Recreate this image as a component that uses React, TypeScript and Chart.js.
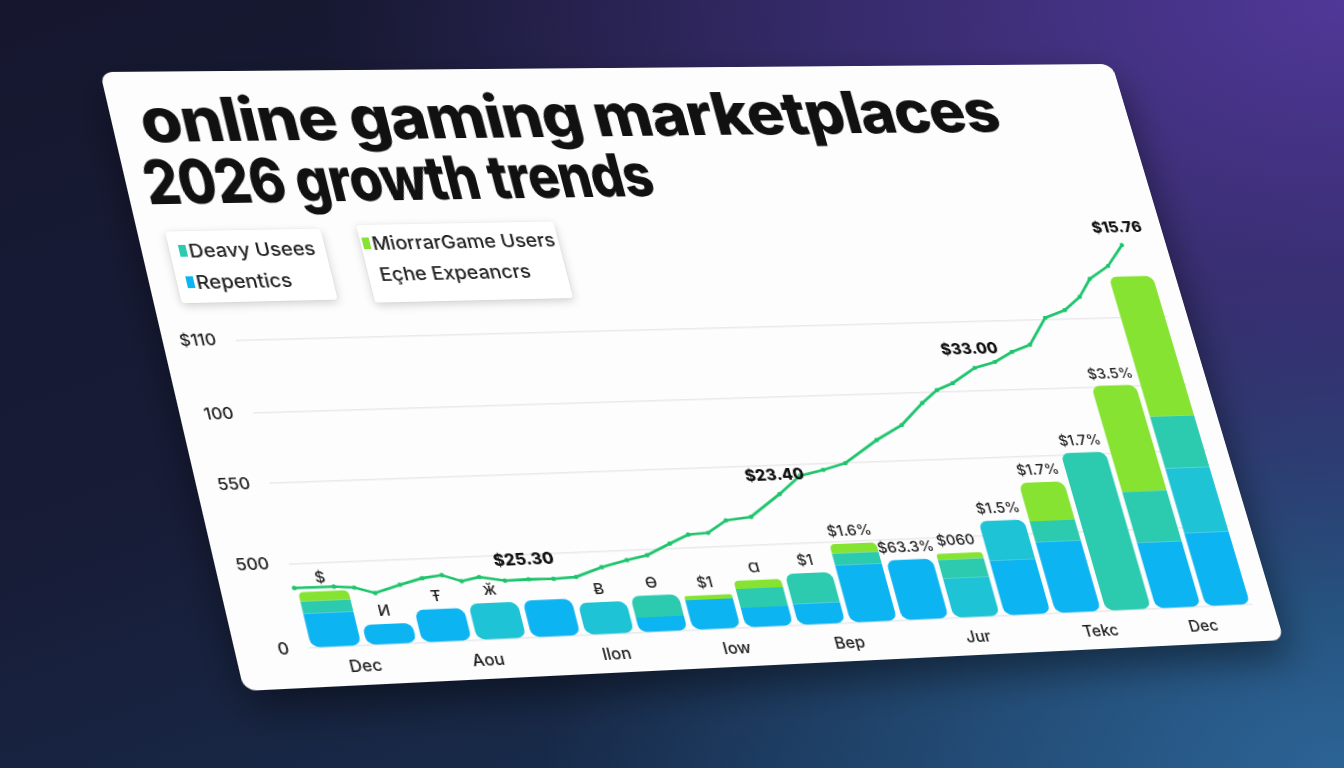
import React, { useEffect, useRef } from "react";
import { Chart, registerables } from "chart.js";

Chart.register(...registerables);

// ---------- data ----------
const barCategories = [
  "P01", "P02", "P03", "P04", "P05", "P06", "P07", "P08", "P09",
  "P10", "P11", "P12", "P13", "P14", "P15", "P16", "P17", "P18",
];
const seriesNames = ["Repentics", "Eçhe Expeancrs", "Deavy Usees", "MiorrarGame Users"];
const repenticsValues = [11.0, 6.6, 10.6, 0, 12.1, 0, 5.0, 9.9, 6.6, 7.1, 19.1, 20.1, 0, 18.5, 24.0, 0, 22.5, 25.1];
const expeancrsValues = [0, 0, 0, 11.8, 0, 10.5, 0, 0, 0, 0, 0, 0, 13.2, 13.4, 0, 0, 0, 22.2];
const deavyValues = [3.9, 0, 0, 0, 0, 0, 7.0, 0, 6.2, 10.0, 4.0, 0, 6.3, 0, 7.1, 53.8, 17.4, 17.9];
const miorrarValues = [3.0, 0, 0, 0, 0, 0, 0, 1.4, 2.7, 0, 3.1, 0, 2.1, 0, 13.1, 0, 36.5, 49.1];
const barLabels = ["$", "И", "Ŧ", "ӂ", "", "Ƀ", "Ө", "$1", "Ɑ", "$1", "$1.6%", "$63.3%", "$060", "$1.5%", "$1.7%", "$1.7%", "$3.5%", ""];

const lineName = "Growth trend";
const lineX = [
  -0.5, 0.21, 0.57, 0.92, 1.4, 1.83, 2.2, 2.53, 2.87, 3.32,
  3.76, 4.22, 4.64, 5.16, 5.66, 6.06, 6.54, 6.93, 7.31, 7.71,
  8.2, 8.86, 9.34, 9.82, 10.28, 11.01, 11.58, 12.1, 12.46, 12.81,
  13.33, 13.76, 14.16, 14.56, 15.02, 15.46, 15.84, 16.15, 16.6, 17.01,
];
const lineY = [
  19.3, 19.2, 18.6, 16.6, 18.9, 20.7, 21.4, 19.2, 20.3, 18.8,
  18.9, 18.7, 19.0, 21.8, 23.8, 25.1, 28.6, 31.3, 31.6, 35.5,
  36.3, 43.5, 49.3, 51.0, 53.0, 60.4, 65.2, 72.4, 76.7, 78.9,
  83.9, 85.7, 89.0, 91.3, 100.5, 103.0, 107.5, 113.7, 118.1, 125.4,
];
const lineCalloutIndex = [10, 21, 30, 39];
const lineCalloutText = ["$25.30", "$23.40", "$33.00", "$15.76"];

const xTickLabels = ["Dec", "Aou", "llon", "Iow", "Bep", "Jur", "Tekc", "Dec"];
const xTickPositions = [0.44, 2.66, 5.03, 7.28, 9.43, 11.92, 14.33, 16.39];
const yTickValues = [0, 27, 53, 76, 100];
const yTickLabels = ["0", "500", "550", "100", "$110"];

const titleLines = ["online gaming marketplaces", "2026 growth trends"];

// ---------- styling ----------
const stackSeries = [repenticsValues, expeancrsValues, deavyValues, miorrarValues];
const seriesColors = ["#0db4f2", "#1fc3d6", "#2ccbb0", "#86e332"];
const lineColor = "#1ec46c";
const CARD_W = 1020;
const CARD_H = 620;
const QUAD = [
  [100, 72],
  [1112, 64],
  [1284, 640],
  [244, 691],
];
const FONT = 'Inter, "Noto Sans", "DejaVu Sans", sans-serif';

function quadMatrix(W: number, H: number, q: number[][]) {
  const [[x0, y0], [x1, y1], [x2, y2], [x3, y3]] = q;
  const sx = x0 - x1 + x2 - x3;
  const sy = y0 - y1 + y2 - y3;
  const dx1 = x1 - x2, dx2 = x3 - x2, dy1 = y1 - y2, dy2 = y3 - y2;
  const det = dx1 * dy2 - dx2 * dy1;
  const g = (sx * dy2 - dx2 * sy) / det;
  const h = (dx1 * sy - sx * dy1) / det;
  const a = x1 - x0 + g * x1, b = x3 - x0 + h * x3, c = x0;
  const d = y1 - y0 + g * y1, e = y3 - y0 + h * y3, f = y0;
  return `matrix3d(${a / W},${d / W},0,${g / W},${b / H},${e / H},0,${h / H},0,0,1,0,${c},${f},0,1)`;
}

const labelPlugin = {
  id: "valueLabels",
  afterDatasetsDraw(chart: any) {
    const ctx = chart.ctx;
    ctx.save();
    ctx.fillStyle = "#1f1f1f";
    ctx.textAlign = "center";
    ctx.textBaseline = "bottom";
    ctx.font = `500 15px ${FONT}`;
    for (let j = 0; j < barCategories.length; j++) {
      const text = barLabels[j];
      if (!text) continue;
      let top = -1;
      stackSeries.forEach((arr, i) => {
        if (arr[j] > 0) top = i;
      });
      if (top < 0) continue;
      const el = chart.getDatasetMeta(top).data[j];
      ctx.fillText(text, el.x, el.y - 5);
    }
    const lm = chart.getDatasetMeta(stackSeries.length);
    ctx.font = `800 16px ${FONT}`;
    ctx.fillStyle = "#111";
    lineCalloutIndex.forEach((pi, k) => {
      const p = lm.data[pi];
      if (p) ctx.fillText(lineCalloutText[k], p.x, p.y - 11);
    });
    ctx.restore();
  },
};

function LegendItem({ name, color, show }: { name: string; color: string; show: boolean }) {
  return (
    <div style={{ display: "flex", alignItems: "center", height: 32 }}>
      <span
        style={{
          display: "inline-block",
          width: 7,
          height: 12,
          marginRight: 2,
          background: show ? color : "transparent",
        }}
      />
      <span>{name}</span>
    </div>
  );
}

export default function App() {
  const canvasRef = useRef<HTMLCanvasElement | null>(null);

  useEffect(() => {
    if (!canvasRef.current) return;
    const radius = (c: any) => {
      if (c.type !== "data") return 0;
      const j = c.dataIndex;
      const i = c.datasetIndex;
      const vals = stackSeries.map((s) => s[j]);
      const first = vals.findIndex((v) => v > 0);
      let last = -1;
      vals.forEach((v, k) => {
        if (v > 0) last = k;
      });
      const R = 8;
      return {
        topLeft: i === last ? R : 0,
        topRight: i === last ? R : 0,
        bottomLeft: i === first ? R : 0,
        bottomRight: i === first ? R : 0,
      };
    };
    const barSets = stackSeries.map((arr, i) => ({
      type: "bar" as const,
      label: seriesNames[i],
      data: arr,
      backgroundColor: seriesColors[i],
      xAxisID: "x",
      yAxisID: "y",
      stack: "bars",
      order: 1,
      grouped: false,
      barPercentage: 0.9,
      categoryPercentage: 1,
      borderSkipped: false,
      borderRadius: radius,
    }));
    const chart = new Chart(canvasRef.current, {
      type: "bar",
      data: {
        labels: barCategories,
        datasets: [
          ...barSets,
          {
            type: "line" as const,
            label: lineName,
            data: lineX.map((x, i) => ({ x, y: lineY[i] })),
            xAxisID: "xl",
            yAxisID: "y",
            stack: "line",
            order: 0,
            borderColor: lineColor,
            backgroundColor: lineColor,
            borderWidth: 2.6,
            pointRadius: 2.2,
            pointBackgroundColor: lineColor,
            pointBorderWidth: 0,
            tension: 0,
            clip: false,
          } as any,
        ],
      },
      options: {
        responsive: false,
        animation: false,
        events: [],
        layout: { padding: { left: 7.8, right: 21.5, top: 184.7, bottom: 7.8 } },
        plugins: { legend: { display: false }, tooltip: { enabled: false } },
        scales: {
          x: { type: "category", display: false, stacked: true, offset: true },
          xl: { type: "linear", display: false, offset: false, min: -0.5, max: 17.5, grid: { offset: false } },
          x2: {
            type: "linear",
            position: "bottom",
            min: -0.5,
            max: 17.5,
            offset: false,
            afterBuildTicks: (axis: any) => {
              axis.ticks = xTickPositions.map((v) => ({ value: v }));
            },
            grid: { display: false, offset: false },
            border: { display: false },
            ticks: {
              padding: 2,
              color: "#1c1c1c",
              maxRotation: 0,
              autoSkip: false,
              font: { family: FONT, size: 16, weight: "500" },
              callback: (_v: any, idx: number) => xTickLabels[idx],
            },
            afterFit: (s: any) => {
              s.height = 30;
            },
          } as any,
          y: {
            type: "linear",
            stacked: true,
            min: 0,
            max: 130,
            afterBuildTicks: (axis: any) => {
              axis.ticks = yTickValues.map((v) => ({ value: v }));
            },
            grid: { color: "#e9e9ec", lineWidth: 1.5, drawTicks: false },
            border: { display: false },
            ticks: {
              padding: 18,
              color: "#1c1c1c",
              font: { family: FONT, size: 16, weight: "500" },
              callback: (_v: any, idx: number) => yTickLabels[idx],
            },
            afterFit: (s: any) => {
              s.width = 60;
            },
          } as any,
        },
      },
      plugins: [labelPlugin],
    });
    return () => chart.destroy();
  }, []);

  const boxStyle: React.CSSProperties = {
    position: "absolute",
    background: "#fff",
    borderRadius: 3,
    boxShadow: "0 3px 10px rgba(0,0,0,0.18), 0 0 2px rgba(0,0,0,0.08)",
    fontFamily: FONT,
    fontWeight: 500,
    fontSize: 19,
    color: "#222",
    boxSizing: "border-box",
    zIndex: 2,
  };

  return (
    <div
      style={{
        position: "fixed",
        inset: 0,
        overflow: "hidden",
        background:
          "radial-gradient(95% 100% at 100% 0%, rgba(80,56,152,1) 0%, rgba(80,56,152,0.55) 40%, rgba(80,56,152,0) 80%)," +
          "radial-gradient(70% 75% at 100% 100%, rgba(44,100,150,1) 0%, rgba(44,100,150,0) 85%)," +
          "linear-gradient(160deg, #16172f 0%, #171c37 45%, #183456 100%)",
      }}
    >
      <div
        style={{
          position: "absolute",
          left: 0,
          top: 0,
          width: CARD_W,
          height: CARD_H,
          transformOrigin: "0 0",
          transform: quadMatrix(CARD_W, CARD_H, QUAD),
          background: "#fdfdfe",
          borderRadius: 12,
          boxShadow: "0 18px 40px rgba(0,0,0,0.45)",
        }}
      >
        <canvas
          ref={canvasRef}
          width={CARD_W}
          height={CARD_H}
          style={{ position: "absolute", left: 0, top: 0, width: CARD_W, height: CARD_H }}
        />
        <div
          style={{
            position: "absolute",
            left: 27,
            top: 18,
            fontFamily: FONT,
            fontWeight: 800,
            fontSize: 63,
            lineHeight: "64px",
            letterSpacing: -1,
            color: "#111",
            whiteSpace: "nowrap",
            zIndex: 2,
          }}
        >
          <div>{titleLines[0]}</div>
          <div style={{ marginLeft: -10, transform: "scaleX(0.82)", transformOrigin: "0 0" }}>{titleLines[1]}</div>
        </div>
        <div style={{ ...boxStyle, left: 26, top: 165, width: 147, height: 73, padding: "4px 0 0 9px" }}>
          <LegendItem name={seriesNames[2]} color={seriesColors[2]} show={true} />
          <LegendItem name={seriesNames[0]} color={seriesColors[0]} show={true} />
        </div>
        <div style={{ ...boxStyle, left: 208, top: 162, width: 192, height: 80, padding: "3px 0 0 2px" }}>
          <LegendItem name={seriesNames[3]} color={seriesColors[3]} show={true} />
          <LegendItem name={seriesNames[1]} color={seriesColors[1]} show={false} />
        </div>
      </div>
    </div>
  );
}
